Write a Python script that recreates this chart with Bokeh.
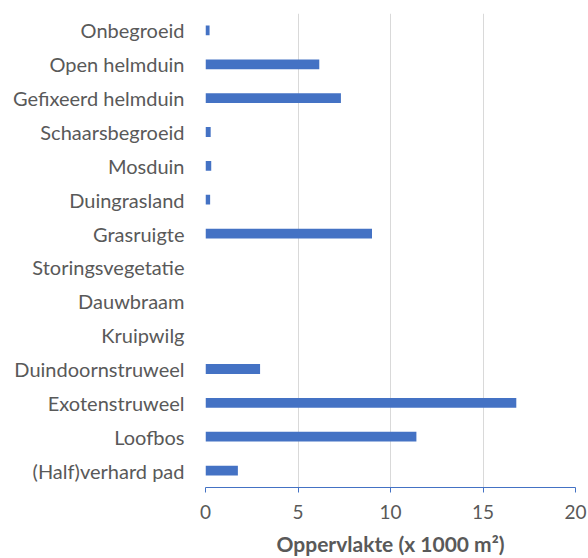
from bokeh.plotting import figure
from bokeh.models import FixedTicker, Range1d
from bokeh.embed import file_html
from bokeh.resources import INLINE

categories = ["Onbegroeid", "Open helmduin", "Gefixeerd helmduin", "Schaarsbegroeid",
              "Mosduin", "Duingrasland", "Grasruigte", "Storingsvegetatie", "Dauwbraam",
              "Kruipwilg", "Duindoornstruweel", "Exotenstruweel", "Loofbos", "(Half)verhard pad"]
values = [0.22, 6.15, 7.32, 0.28, 0.31, 0.25, 9.0, 0, 0, 0, 2.95, 16.8, 11.4, 1.75]
x_ticks = [0, 5, 10, 15, 20]
x_title = "Oppervlakte (x 1000 m²)"

FONT = "Lato"
GREY = "#595959"
BLUE = "#4472C4"

p = figure(width=588, height=558, y_range=list(reversed(categories)), x_range=Range1d(0, 20),
           output_backend="svg", toolbar_location=None,
           min_border_left=205, min_border_right=13, min_border_top=13, min_border_bottom=68)
p.hbar(y=categories, right=values, height=0.29, fill_color=BLUE, line_color=None)

p.outline_line_color = None
p.ygrid.grid_line_color = None
p.xgrid.grid_line_color = "#D9D9D9"
p.xgrid.grid_line_width = 1
p.xaxis.ticker = FixedTicker(ticks=x_ticks)
p.xaxis.axis_line_color = BLUE
p.xaxis.major_tick_line_color = BLUE
p.xaxis.major_tick_out = 5
p.xaxis.major_tick_in = 0
p.xaxis.minor_tick_line_color = None
p.xaxis.major_label_text_font = FONT
p.xaxis.major_label_text_font_size = "19px"
p.xaxis.major_label_text_color = GREY
p.xaxis.major_label_standoff = 12
p.xaxis.axis_label = x_title
p.xaxis.axis_label_text_font = FONT
p.xaxis.axis_label_text_font_style = "bold"
p.xaxis.axis_label_text_font_size = "21px"
p.xaxis.axis_label_text_color = GREY
p.xaxis.axis_label_standoff = 9

p.yaxis.axis_line_color = None
p.yaxis.major_tick_line_color = None
p.yaxis.minor_tick_line_color = None
p.yaxis.major_tick_out = 0
p.yaxis.major_tick_in = 0
p.yaxis.major_label_text_font = FONT
p.yaxis.major_label_text_font_size = "20px"
p.yaxis.major_label_text_color = GREY
p.yaxis.major_label_standoff = 21

open("out.html", "w").write(file_html(p, INLINE))
